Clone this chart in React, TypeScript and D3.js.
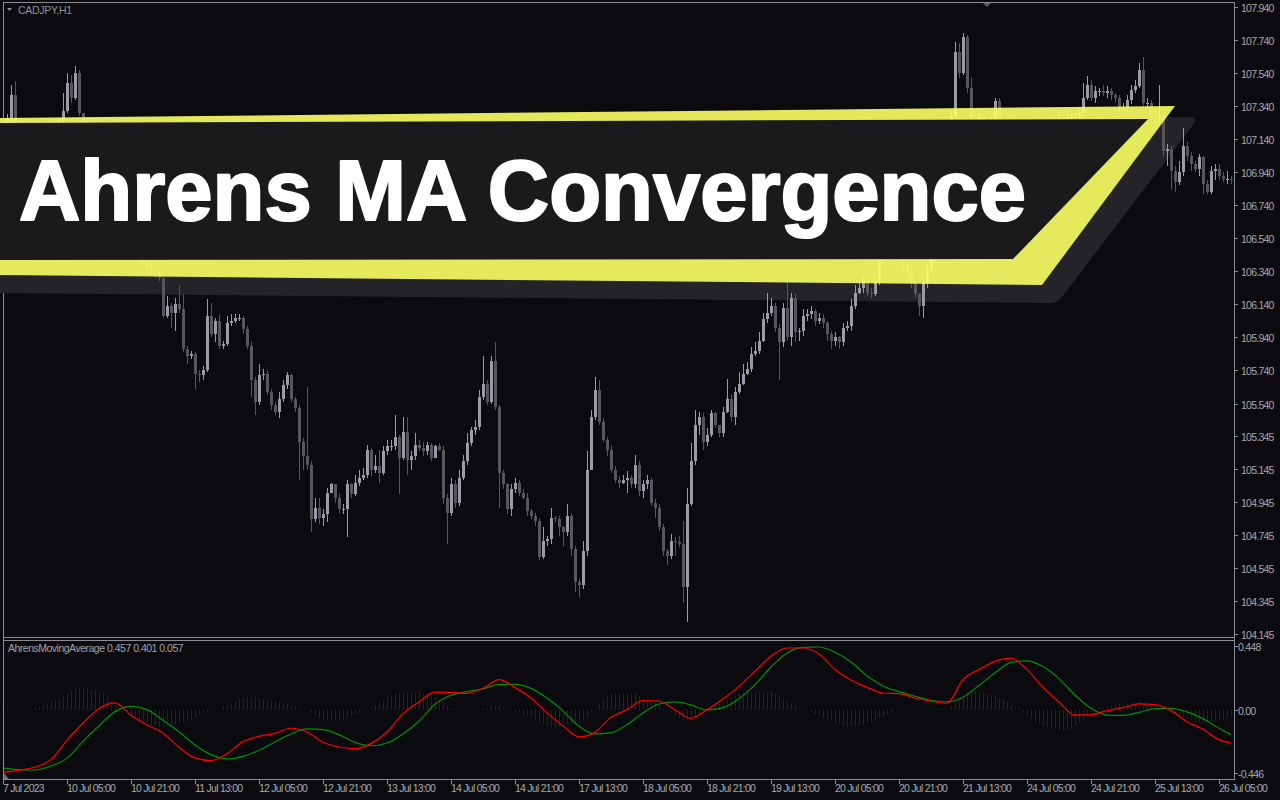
import { useEffect } from 'react';
import * as d3 from 'd3';

const SYMBOL = 'CADJPY,H1';
const TITLE = 'Ahrens MA Convergence';
const INDICATOR_LABEL = 'AhrensMovingAverage 0.457 0.401 0.057';

// CADJPY H1, one entry per bar; the open of each bar is the previous close
const firstOpen = 107.22;
const closes = [
  107.25, 107.27, 107.41, 107.19, 107.13, 107.07, 107.10, 107.04, 107.07, 107.13,
  107.10, 107.16, 107.19, 107.22, 107.25, 107.31, 107.48, 107.39, 107.54, 107.30,
  107.16, 107.19, 107.13, 107.07, 107.01, 106.95, 106.92, 106.86, 106.80, 106.74,
  106.68, 106.59, 106.50, 106.44, 106.41, 106.38, 106.39, 106.35, 106.33, 106.30,
  106.07, 106.13, 106.09, 106.14, 106.11, 105.87, 105.83, 105.84, 105.72, 105.71,
  105.74, 106.07, 105.96, 106.04, 105.89, 105.90, 106.03, 106.04, 106.06, 106.06,
  105.99, 105.89, 105.68, 105.55, 105.71, 105.72, 105.61, 105.53, 105.49, 105.57,
  105.65, 105.71, 105.57, 105.51, 105.31, 105.22, 105.17, 104.84, 104.91, 104.85,
  104.87, 105.00, 105.05, 104.97, 104.90, 104.90, 105.05, 104.99, 105.06, 105.09,
  105.11, 105.26, 105.14, 105.16, 105.12, 105.25, 105.28, 105.28, 105.34, 105.21,
  105.37, 105.20, 105.22, 105.29, 105.27, 105.25, 105.29, 105.21, 105.28, 105.26,
  104.97, 104.88, 105.05, 104.94, 105.09, 105.19, 105.30, 105.38, 105.40, 105.58,
  105.66, 105.55, 105.80, 105.52, 105.12, 105.05, 104.90, 105.02, 105.06, 105.00,
  104.97, 104.89, 104.86, 104.83, 104.61, 104.71, 104.72, 104.85, 104.84, 104.79,
  104.76, 104.86, 104.66, 104.46, 104.44, 104.65, 105.14, 105.46, 105.62, 105.43,
  105.32, 105.26, 105.14, 105.08, 105.06, 105.08, 105.09, 105.05, 105.17, 105.01,
  105.05, 105.08, 104.94, 104.91, 104.79, 104.65, 104.62, 104.71, 104.70, 104.69,
  104.43, 104.93, 105.19, 105.41, 105.46, 105.31, 105.35, 105.48, 105.41, 105.36,
  105.49, 105.57, 105.46, 105.61, 105.66, 105.72, 105.75, 105.84, 105.86, 105.92,
  106.05, 106.09, 106.13, 106.00, 105.91, 106.12, 105.94, 106.18, 105.97, 105.98,
  106.07, 106.08, 106.10, 106.04, 106.06, 106.03, 105.96, 105.92, 105.94, 105.91,
  106.00, 106.01, 106.13, 106.21, 106.24, 106.28, 106.21, 106.20, 106.28, 106.41,
  106.44, 106.47, 106.50, 106.47, 106.42, 106.35, 106.36, 106.27, 106.20, 106.13,
  106.27, 106.35, 106.41, 106.47, 106.56, 106.71, 106.89, 107.28, 107.67, 107.54,
  107.76, 107.45, 107.25, 107.22, 107.27, 107.22, 107.19, 107.25, 107.37, 107.25,
  107.21, 107.16, 107.13, 107.15, 107.18, 107.16, 107.19, 107.21, 107.22, 107.21,
  107.24, 107.22, 107.24, 107.25, 107.27, 107.24, 107.27, 107.28, 107.28, 107.30,
  107.39, 107.47, 107.39, 107.43, 107.43, 107.42, 107.43, 107.41, 107.39, 107.33,
  107.33, 107.38, 107.44, 107.46, 107.56, 107.36, 107.36, 107.28, 107.27, 107.28,
  107.07, 107.08, 106.95, 106.88, 106.94, 107.10, 107.04, 106.99, 106.96, 107.03,
  106.87, 106.82, 106.95, 106.96, 106.92, 106.90, 106.90, 106.89,
];

const highs = [
  107.30, 107.29, 107.47, 107.49, 107.22, 107.16, 107.13, 107.12, 107.10, 107.16,
  107.15, 107.21, 107.22, 107.25, 107.27, 107.42, 107.54, 107.53, 107.58, 107.56,
  107.30, 107.27, 107.21, 107.15, 107.10, 107.03, 106.98, 106.94, 106.88, 106.81,
  106.76, 106.70, 106.60, 106.52, 106.46, 106.43, 106.42, 106.41, 106.38, 106.39,
  106.31, 106.19, 106.15, 106.18, 106.26, 106.20, 105.89, 105.86, 105.85, 105.74,
  105.77, 106.17, 106.15, 106.06, 106.08, 105.92, 106.07, 106.08, 106.08, 106.08,
  106.07, 106.01, 105.91, 105.70, 105.78, 105.75, 105.74, 105.63, 105.55, 105.61,
  105.68, 105.73, 105.72, 105.58, 105.53, 105.33, 105.64, 105.19, 104.97, 104.97,
  104.90, 105.03, 105.06, 105.05, 104.99, 104.93, 105.08, 105.06, 105.11, 105.14,
  105.15, 105.29, 105.27, 105.23, 105.26, 105.28, 105.32, 105.32, 105.47, 105.35,
  105.46, 105.46, 105.25, 105.36, 105.32, 105.31, 105.31, 105.30, 105.29, 105.30,
  105.28, 104.99, 105.09, 105.08, 105.14, 105.23, 105.36, 105.40, 105.44, 105.62,
  105.83, 105.68, 105.83, 105.91, 105.53, 105.14, 105.06, 105.05, 105.09, 105.08,
  105.02, 105.00, 104.90, 104.88, 104.85, 104.79, 104.74, 104.91, 104.86, 104.86,
  104.80, 104.93, 104.88, 104.68, 104.48, 104.71, 105.25, 105.50, 105.70, 105.68,
  105.45, 105.34, 105.28, 105.16, 105.10, 105.11, 105.13, 105.11, 105.23, 105.19,
  105.08, 105.11, 105.09, 104.96, 104.93, 104.81, 104.66, 104.75, 104.73, 104.74,
  104.83, 105.03, 105.30, 105.50, 105.49, 105.48, 105.39, 105.50, 105.49, 105.41,
  105.52, 105.69, 105.60, 105.64, 105.73, 105.78, 105.79, 105.88, 105.91, 105.97,
  106.09, 106.21, 106.18, 106.15, 106.02, 106.15, 106.33, 106.21, 106.20, 106.00,
  106.11, 106.11, 106.13, 106.11, 106.09, 106.08, 106.04, 105.98, 105.97, 105.95,
  106.03, 106.04, 106.17, 106.26, 106.27, 106.31, 106.29, 106.24, 106.30, 106.44,
  106.47, 106.50, 106.53, 106.51, 106.48, 106.44, 106.39, 106.37, 106.28, 106.21,
  106.30, 106.38, 106.44, 106.50, 106.59, 106.74, 106.92, 107.31, 107.73, 107.72,
  107.78, 107.77, 107.51, 107.28, 107.30, 107.28, 107.24, 107.28, 107.39, 107.39,
  107.27, 107.23, 107.19, 107.18, 107.21, 107.21, 107.22, 107.24, 107.25, 107.25,
  107.27, 107.26, 107.27, 107.28, 107.30, 107.28, 107.29, 107.31, 107.30, 107.33,
  107.48, 107.52, 107.50, 107.46, 107.45, 107.47, 107.46, 107.45, 107.42, 107.41,
  107.36, 107.41, 107.47, 107.50, 107.60, 107.64, 107.39, 107.38, 107.31, 107.47,
  107.30, 107.11, 107.10, 106.98, 107.01, 107.21, 107.12, 107.06, 107.01, 107.05,
  107.04, 106.89, 106.98, 106.99, 106.99, 106.94, 106.95, 106.92,
];

const lows = [
  107.19, 107.22, 107.25, 107.16, 107.10, 107.04, 107.05, 107.01, 107.02, 107.05,
  107.07, 107.08, 107.14, 107.17, 107.21, 107.24, 107.30, 107.36, 107.38, 107.28,
  107.13, 107.15, 107.10, 107.04, 106.98, 106.92, 106.88, 106.83, 106.77, 106.71,
  106.64, 106.55, 106.47, 106.39, 106.37, 106.35, 106.35, 106.32, 106.30, 106.28,
  106.06, 106.06, 106.00, 105.98, 106.09, 105.85, 105.78, 105.81, 105.62, 105.67,
  105.68, 105.73, 105.94, 105.91, 105.87, 105.87, 105.89, 106.01, 106.03, 106.04,
  105.96, 105.87, 105.58, 105.47, 105.53, 105.68, 105.59, 105.50, 105.47, 105.45,
  105.55, 105.63, 105.55, 105.49, 105.08, 105.14, 105.14, 104.76, 104.82, 104.81,
  104.80, 104.82, 105.00, 104.94, 104.88, 104.87, 104.73, 104.97, 104.98, 105.04,
  105.08, 105.09, 105.10, 105.12, 105.06, 105.11, 105.23, 105.25, 105.26, 104.99,
  105.20, 105.11, 105.14, 105.20, 105.25, 105.22, 105.23, 105.19, 105.23, 105.25,
  104.93, 104.69, 104.86, 104.91, 104.92, 105.08, 105.17, 105.28, 105.35, 105.38,
  105.56, 105.53, 105.54, 105.50, 104.91, 105.02, 104.87, 104.86, 105.00, 104.98,
  104.96, 104.86, 104.84, 104.80, 104.59, 104.60, 104.68, 104.69, 104.82, 104.74,
  104.68, 104.74, 104.62, 104.40, 104.36, 104.42, 104.62, 105.14, 105.44, 105.41,
  105.31, 105.22, 105.12, 105.06, 105.03, 105.05, 105.00, 105.03, 105.03, 104.98,
  104.97, 105.02, 104.92, 104.85, 104.77, 104.62, 104.56, 104.60, 104.62, 104.67,
  104.33, 104.22, 104.92, 105.17, 105.35, 105.26, 105.28, 105.34, 105.39, 105.34,
  105.34, 105.48, 105.43, 105.41, 105.60, 105.65, 105.71, 105.73, 105.83, 105.84,
  105.91, 106.03, 106.07, 105.97, 105.68, 105.88, 105.92, 105.89, 105.91, 105.92,
  105.95, 106.04, 106.05, 106.01, 106.02, 106.00, 105.92, 105.87, 105.89, 105.87,
  105.89, 105.98, 105.98, 106.11, 106.20, 106.21, 106.19, 106.18, 106.19, 106.26,
  106.39, 106.42, 106.46, 106.44, 106.39, 106.32, 106.32, 106.24, 106.18, 106.07,
  106.06, 106.24, 106.33, 106.39, 106.45, 106.54, 106.69, 106.87, 107.27, 107.51,
  107.53, 107.42, 107.23, 107.18, 107.21, 107.19, 107.16, 107.18, 107.23, 107.22,
  107.17, 107.13, 107.10, 107.10, 107.12, 107.13, 107.14, 107.18, 107.19, 107.18,
  107.19, 107.20, 107.21, 107.22, 107.23, 107.22, 107.22, 107.25, 107.25, 107.26,
  107.28, 107.38, 107.37, 107.36, 107.40, 107.40, 107.39, 107.38, 107.36, 107.30,
  107.31, 107.31, 107.35, 107.42, 107.45, 107.34, 107.33, 107.25, 107.24, 107.24,
  107.04, 106.98, 106.83, 106.82, 106.86, 106.92, 107.01, 106.95, 106.94, 106.92,
  106.81, 106.81, 106.81, 106.89, 106.89, 106.88, 106.87, 106.87,
];

// Indicator histogram, one value per bar
const histogram = [
  -0.012, -0.012, -0.009, -0.007, -0.002, 0, 0.002, 0.007, 0.014, 0.021,
  0.033, 0.045, 0.056, 0.070, 0.085, 0.103, 0.120, 0.131, 0.143, 0.150,
  0.153, 0.148, 0.143, 0.136, 0.127, 0.117, 0.094, 0.063, 0.028, 0.005,
  -0.012, -0.026, -0.047, -0.063, -0.077, -0.089, -0.101, -0.113, -0.117, -0.120,
  -0.120, -0.117, -0.113, -0.106, -0.096, -0.085, -0.075, -0.063, -0.052, -0.040,
  -0.026, -0.016, -0.007, 0, 0.005, 0.016, 0.031, 0.042, 0.056, 0.073,
  0.085, 0.089, 0.089, 0.087, 0.082, 0.077, 0.070, 0.066, 0.059, 0.052,
  0.047, 0.042, 0.033, 0.026, 0.014, 0, 0, -0.014, -0.042, -0.061,
  -0.070, -0.075, -0.075, -0.075, -0.073, -0.068, -0.059, -0.042, -0.033, -0.021,
  -0.007, 0.005, 0.016, 0.033, 0.049, 0.068, 0.087, 0.101, 0.113, 0.120,
  0.124, 0.127, 0.129, 0.127, 0.124, 0.113, 0.108, 0.101, 0.089, 0.075,
  0.061, 0.028, 0.009, 0.002, 0.002, 0.002, 0.002, 0.002, 0.002, 0,
  0.007, 0.014, 0.026, 0.033, 0.028, 0.014, 0, -0.009, -0.019, -0.026,
  -0.038, -0.047, -0.059, -0.075, -0.089, -0.103, -0.115, -0.122, -0.122, -0.120,
  -0.115, -0.108, -0.103, -0.099, -0.094, -0.080, -0.061, -0.016, 0, 0.047,
  0.075, 0.096, 0.108, 0.110, 0.113, 0.113, 0.113, 0.113, 0.110, 0.099,
  0.085, 0.075, 0.061, 0.045, 0.023, 0.007, -0.009, -0.023, -0.042, -0.059,
  -0.073, -0.080, -0.070, -0.052, -0.028, -0.012, 0.005, 0.016, 0.028, 0.042,
  0.054, 0.068, 0.085, 0.096, 0.108, 0.117, 0.122, 0.124, 0.127, 0.129,
  0.129, 0.127, 0.122, 0.110, 0.094, 0.077, 0.061, 0.047, 0.031, 0.014,
  0.002, -0.005, -0.016, -0.028, -0.042, -0.056, -0.068, -0.082, -0.094, -0.103,
  -0.113, -0.122, -0.122, -0.117, -0.113, -0.106, -0.096, -0.085, -0.070, -0.056,
  -0.042, -0.028, -0.014, -0.005, 0, 0, 0, 0, 0, 0,
  0.002, 0.002, 0.002, 0.002, 0.002, 0.002, 0.005, 0.016, 0.047, 0.077,
  0.103, 0.122, 0.138, 0.138, 0.131, 0.122, 0.113, 0.103, 0.096, 0.085,
  0.070, 0.052, 0.028, 0.012, 0.002, -0.021, -0.042, -0.063, -0.082, -0.099,
  -0.113, -0.122, -0.131, -0.136, -0.141, -0.143, -0.146, -0.136, -0.117, -0.094,
  -0.070, -0.038, -0.016, 0, 0.009, 0.012, 0.023, 0.031, 0.038, 0.040,
  0.042, 0.045, 0.047, 0.049, 0.052, 0.047, 0.040, 0.033, 0.023, 0.012,
  0, -0.012, -0.023, -0.033, -0.045, -0.054, -0.066, -0.075, -0.085, -0.092,
  -0.094, -0.094, -0.087, -0.080, -0.073, -0.066, -0.059, -0.045,
];

// Fast (red) and slow (green) lines, read every 4th bar plus the last one
const lineBars = [...d3.range(0, 305, 4), 307];
const fastLine = [
  -0.441, -0.427, -0.404, -0.352, -0.216, -0.094, 0.007, 0.047, -0.040, -0.108,
  -0.164, -0.265, -0.340, -0.359, -0.310, -0.225, -0.188, -0.167, -0.131, -0.157,
  -0.230, -0.263, -0.275, -0.239, -0.157, -0.028, 0.054, 0.124, 0.122, 0.115,
  0.150, 0.211, 0.155, 0.082, -0.023, -0.115, -0.192, -0.160, -0.054, 0.000,
  0.063, 0.061, -0.002, -0.061, 0.000, 0.075, 0.164, 0.270, 0.376, 0.434,
  0.434, 0.392, 0.282, 0.209, 0.157, 0.117, 0.113, 0.082, 0.059, 0.045,
  0.211, 0.282, 0.340, 0.362, 0.282, 0.157, 0.054, -0.038, -0.035, -0.007,
  0.014, 0.040, 0.035, -0.007, -0.085, -0.138, -0.211, -0.235,
];
const slowLine = [
  -0.411, -0.423, -0.425, -0.397, -0.343, -0.223, -0.113, -0.014, 0.023, 0.000,
  -0.075, -0.155, -0.249, -0.317, -0.347, -0.329, -0.286, -0.228, -0.171, -0.136,
  -0.141, -0.176, -0.230, -0.254, -0.235, -0.171, -0.082, 0.038, 0.101, 0.127,
  0.146, 0.178, 0.178, 0.150, 0.082, -0.009, -0.117, -0.171, -0.162, -0.106,
  -0.023, 0.040, 0.054, 0.033, -0.002, 0.014, 0.077, 0.176, 0.300, 0.399,
  0.439, 0.441, 0.404, 0.336, 0.239, 0.167, 0.127, 0.094, 0.066, 0.054,
  0.087, 0.171, 0.258, 0.333, 0.343, 0.303, 0.218, 0.103, 0.009, -0.038,
  -0.040, -0.019, 0.007, 0.009, -0.016, -0.063, -0.131, -0.176,
];

const priceTicks = [
  '107.940', '107.740', '107.540', '107.340', '107.140', '106.940', '106.740',
  '106.540', '106.340', '106.140', '105.940', '105.740', '105.540', '105.345',
  '105.145', '104.945', '104.745', '104.545', '104.345', '104.145',
];
const subTicks = ['0.448', '0.00', '-0.446'];
const timeLabels = [
  '7 Jul 2023', '10 Jul 05:00', '10 Jul 21:00', '11 Jul 13:00', '12 Jul 05:00',
  '12 Jul 21:00', '13 Jul 13:00', '14 Jul 05:00', '14 Jul 21:00', '17 Jul 13:00',
  '18 Jul 05:00', '18 Jul 21:00', '19 Jul 13:00', '20 Jul 05:00', '20 Jul 21:00',
  '21 Jul 13:00', '24 Jul 05:00', '24 Jul 21:00', '25 Jul 13:00', '26 Jul 05:00',
];
const barsPerTimeLabel = 16;

const BG = '#0b0b0f';
const FRAME = '#8c8c95';
const AXIS_TEXT = '#a4a8b0';
const BULL = '#9b9ba8';
const BEAR = '#56565c';
const FONT = "'Liberation Sans', Arial, sans-serif";

export default function App() {
  useEffect(() => {
    document.body.style.margin = '0';
    document.body.style.background = BG;
  }, []);

  const width = 1280;
  const height = 800;
  const main = { left: 3, right: 1234, top: 2, bottom: 637 };
  const sub = { top: 640, bottom: 779 };

  const x = d3.scaleLinear().domain([0, closes.length - 1]).range([3, 1231]);
  const y = d3.scaleLinear().domain([104.145, 107.94]).range([634, 7]);
  const ys = d3.scaleLinear().domain([-0.446, 0.448]).range([773, 646]);

  const candles = closes.map((c, i) => {
    const o = i === 0 ? firstOpen : closes[i - 1];
    return { i, o, c, h: Math.max(highs[i], o, c), l: Math.min(lows[i], o, c) };
  });

  const line = d3
    .line<number>()
    .x((_, k) => x(lineBars[k]))
    .y((v) => ys(v))
    .curve(d3.curveMonotoneX);

  const px = (i: number) => Math.round(x(i)) + 0.5;

  return (
    <svg
      width={width}
      height={height}
      style={{ position: 'absolute', left: 0, top: 0, display: 'block' }}
      fontFamily={FONT}
    >
      <rect width={width} height={height} fill={BG} />
      <defs>
        <clipPath id="mainClip">
          <rect x={main.left + 1} y={main.top + 1} width={main.right - main.left - 1} height={main.bottom - main.top - 1} />
        </clipPath>
        <clipPath id="subClip">
          <rect x={main.left + 1} y={sub.top + 1} width={main.right - main.left - 1} height={sub.bottom - sub.top - 1} />
        </clipPath>
      </defs>

      {/* Banner shadow sits under the candles */}
      <path
        d="M0,131 L1188,117 Q1199,117 1193,125 L1062,297 Q1058,303 1050,303 L0,293 Z"
        fill="#242428"
      />

      {/* Candles */}
      <g clipPath="url(#mainClip)">
        {candles.map((d) => {
          const bull = d.c >= d.o;
          const col = bull ? BULL : BEAR;
          const cx = px(d.i);
          const top = Math.round(y(Math.max(d.o, d.c)));
          const bot = Math.round(y(Math.min(d.o, d.c)));
          return (
            <g key={d.i}>
              <line x1={cx} x2={cx} y1={Math.round(y(d.h))} y2={Math.round(y(d.l))} stroke={col} strokeWidth={1} />
              <rect x={cx - 1.5} y={top} width={3} height={Math.max(1, bot - top)} fill={col} />
            </g>
          );
        })}
      </g>

      {/* Title banner */}
      <path d="M0,118 L1175,106 L1042,285 L0,275 Z" fill="#fbff62" opacity={0.9} />
      <path d="M0,123 L1148,119 L1013,259 L0,260 Z" fill="#1a1a1c" />
      <text
        x={19}
        y={220}
        fontSize={85}
        fontWeight="bold"
        fill="#ffffff"
        stroke="#ffffff"
        strokeWidth={2.2}
        strokeLinejoin="round"
        textLength={1007}
        lengthAdjust="spacingAndGlyphs"
      >
        {TITLE}
      </text>

      {/* Frames */}
      <g stroke={FRAME} strokeWidth={1} fill="none" shapeRendering="crispEdges">
        <line x1={main.left + 0.5} x2={main.right + 0.5} y1={main.top + 0.5} y2={main.top + 0.5} />
        <line x1={main.left + 0.5} x2={main.right + 0.5} y1={main.bottom + 0.5} y2={main.bottom + 0.5} />
        <line x1={main.left + 0.5} x2={main.right + 0.5} y1={sub.top + 0.5} y2={sub.top + 0.5} />
        <line x1={main.left + 0.5} x2={main.right + 0.5} y1={sub.bottom + 0.5} y2={sub.bottom + 0.5} />
        <line x1={main.left + 0.5} x2={main.left + 0.5} y1={main.top} y2={118} />
        <line x1={main.left + 0.5} x2={main.left + 0.5} y1={293} y2={sub.bottom + 1} />
        <line x1={main.right + 0.5} x2={main.right + 0.5} y1={main.top} y2={sub.bottom + 1} />
      </g>

      <text x={18} y={14} fontSize={10.5} fill="#8d929c" letterSpacing={-0.3}>
        {SYMBOL}
      </text>
      <path d="M7,8 L12,8 L9.5,11 Z" fill="#8d929c" />
      <path d="M983,3 L991,3 L987,7 Z" fill="#5a5a62" />

      {/* Price axis */}
      <g fontSize={10.5} fill={AXIS_TEXT} letterSpacing={-0.75}>
        {priceTicks.map((t) => {
          const ty = Math.round(y(+t)) + 0.5;
          return (
            <g key={t}>
              <line x1={main.right + 1} x2={main.right + 4} y1={ty} y2={ty} stroke={FRAME} />
              <text x={1241} y={ty + 4}>
                {t}
              </text>
            </g>
          );
        })}
      </g>

      {/* Indicator window */}
      <g clipPath="url(#subClip)">
        {histogram.map((v, i) =>
          v === 0 ? null : (
            <line
              key={i}
              x1={px(i)}
              x2={px(i)}
              y1={Math.round(ys(0))}
              y2={Math.round(ys(v))}
              stroke="#0a0ae6"
              strokeWidth={1}
            />
          ),
        )}
        <path d={line(slowLine) ?? ''} fill="none" stroke="#009000" strokeWidth={1.2} />
        <path d={line(fastLine) ?? ''} fill="none" stroke="#ff0000" strokeWidth={1.2} />
      </g>
      <path d="M4,773 L4,779 L9,779 Z" fill="#6a6a72" />
      <text x={8} y={652} fontSize={10.5} fill="#a0a2aa" letterSpacing={-0.5}>
        {INDICATOR_LABEL}
      </text>
      <g fontSize={10.5} fill={AXIS_TEXT} letterSpacing={-0.75}>
        {subTicks.map((t) => {
          const ty = Math.round(ys(+t)) + 0.5;
          return (
            <g key={t}>
              <line x1={main.right + 1} x2={main.right + 4} y1={ty} y2={ty} stroke={FRAME} />
              <text x={1238} y={ty + 4}>
                {t}
              </text>
            </g>
          );
        })}
      </g>

      {/* Time axis */}
      <g fontSize={10.5} fill={AXIS_TEXT} letterSpacing={-0.75}>
        {timeLabels.map((t, k) => {
          const tx = px(k * barsPerTimeLabel);
          return (
            <g key={t}>
              <line x1={tx} x2={tx} y1={sub.bottom + 1} y2={sub.bottom + 5} stroke={FRAME} />
              <text x={tx - 0.5} y={792}>
                {t}
              </text>
            </g>
          );
        })}
      </g>
    </svg>
  );
}
